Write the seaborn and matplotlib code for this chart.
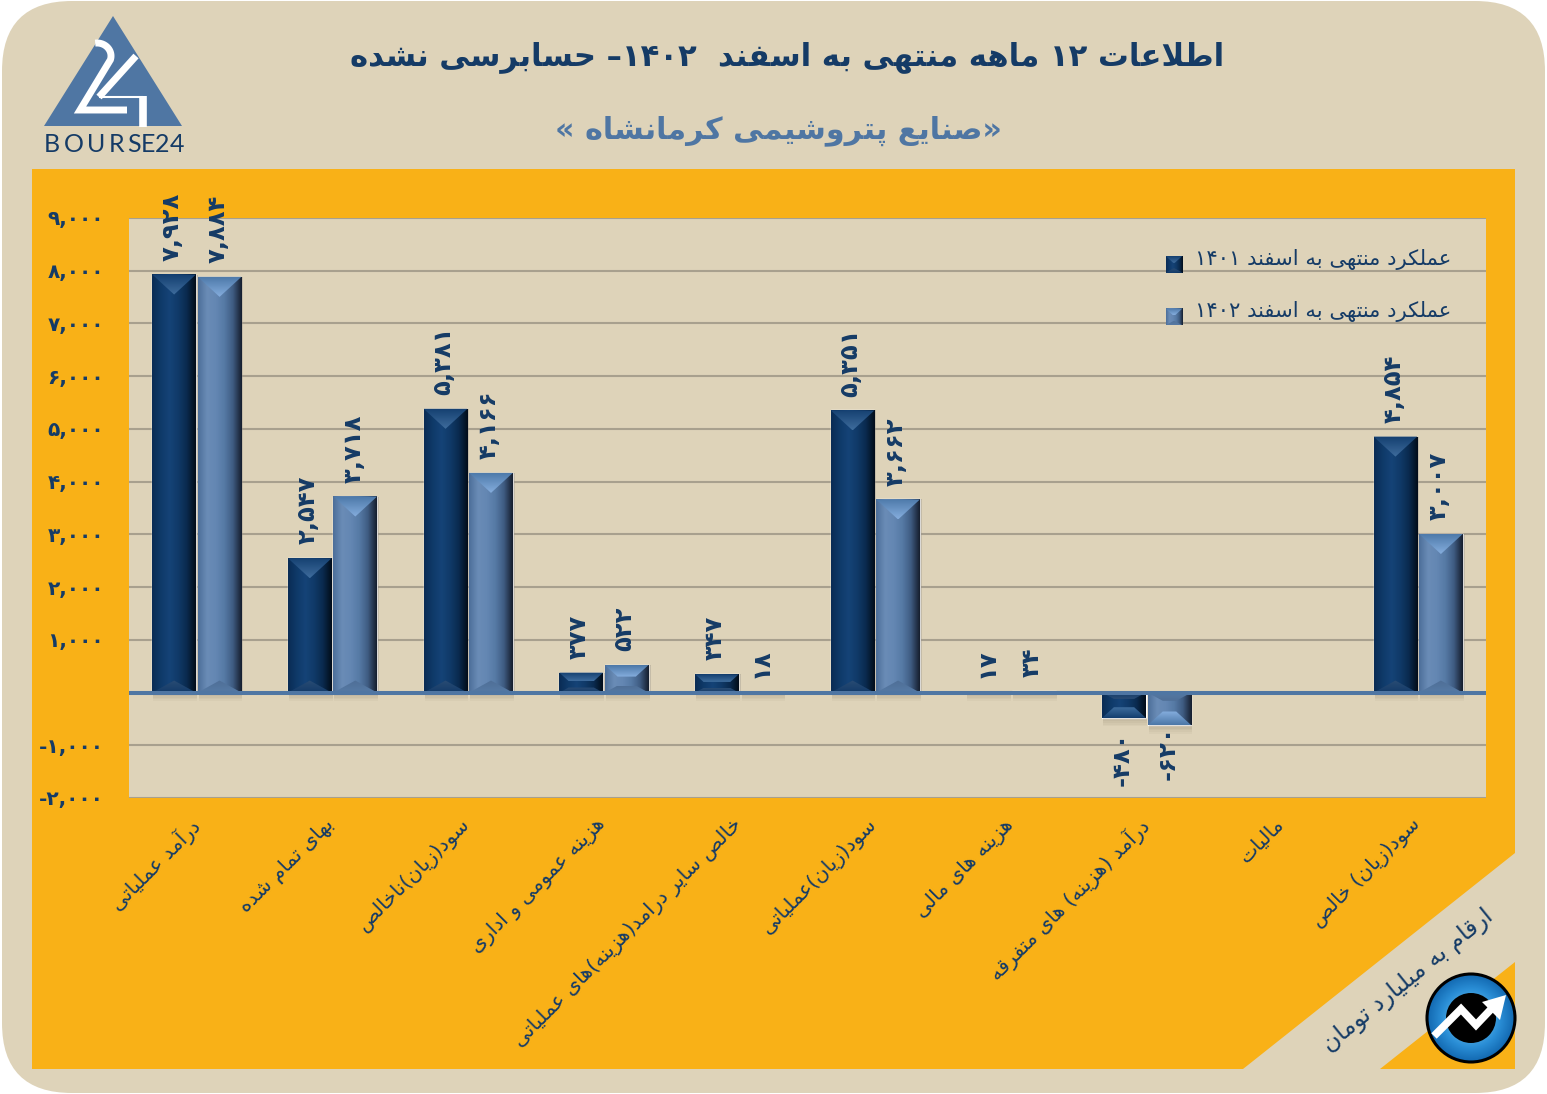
import re
import numpy as np
import pandas as pd
import matplotlib
matplotlib.use('Agg')
import matplotlib.pyplot as plt
import seaborn as sns
from matplotlib.colors import LinearSegmentedColormap
from matplotlib.patches import Circle, FancyBboxPatch, Polygon, Rectangle
from matplotlib.transforms import ScaledTranslation

items = ['درآمد عملیاتی', 'بهای تمام شده', 'سود(زیان)ناخالص', 'هزینه عمومی و اداری',
         'خالص سایر درامد(هزینه)های عملیاتی', 'سود(زیان)عملیاتی', 'هزینه های مالی',
         'درآمد (هزینه) های متفرقه', 'مالیات', 'سود(زیان) خالص']
values_1401 = [7928, 2547, 5381, 377, 347, 5351, 17, -480, np.nan, 4854]
values_1402 = [7884, 3718, 4166, 522, 18, 3662, 34, -620, np.nan, 3007]
period_1401 = 'عملکرد منتهی به اسفند ۱۴۰۱'
period_1402 = 'عملکرد منتهی به اسفند ۱۴۰۲'
y_ticks = [-2000, -1000, 0, 1000, 2000, 3000, 4000, 5000, 6000, 7000, 8000, 9000]
title_text = 'اطلاعات ۱۲ ماهه منتهی به اسفند  ۱۴۰۲– حسابرسی نشده'
subtitle_text = '«صنایع پتروشیمی کرمانشاه »'
unit_text = 'ارقام به میلیارد تومان'

W, H = 1547, 1094
CREAM = '#DED3B9'
ORANGE = '#F9B117'
NAVY = '#153B66'
STEEL = '#4F76A3'
GRID = '#A8A08E'

# matplotlib has no arabic shaping, so pick presentation forms by hand
FORMS = {}
for ch, start in zip('بتثجحخسشصضطظعغفقلمن',
                     [0xFE8F, 0xFE95, 0xFE99, 0xFE9D, 0xFEA1, 0xFEA5, 0xFEB1, 0xFEB5, 0xFEB9, 0xFEBD,
                      0xFEC1, 0xFEC5, 0xFEC9, 0xFECD, 0xFED1, 0xFED5, 0xFEDD, 0xFEE1, 0xFEE5]):
    FORMS[ch] = [chr(start + i) for i in range(4)]
for ch, start in zip('هکگیپچ', [0xFEE9, 0xFB8E, 0xFB92, 0xFBFC, 0xFB56, 0xFB7A]):
    FORMS[ch] = [chr(start + i) for i in range(4)]
for ch, start in zip('اآدذرزوژ', [0xFE8D, 0xFE81, 0xFEA9, 0xFEAB, 0xFEAD, 0xFEAF, 0xFEED, 0xFB8A]):
    FORMS[ch] = [chr(start), chr(start + 1)]


def shape(text):
    text = text.replace('لا', '\uFEFB')
    out = []
    for i, ch in enumerate(text):
        prev = text[i - 1] if i > 0 else ''
        nxt = text[i + 1] if i + 1 < len(text) else ''
        if ch == '\uFEFB':
            out.append('\uFEFC' if prev in FORMS and len(FORMS[prev]) == 4 else ch)
            continue
        if ch not in FORMS:
            out.append(ch)
            continue
        joins_prev = prev in FORMS and len(FORMS[prev]) == 4
        joins_next = (nxt in FORMS or nxt == '\uFEFB') and len(FORMS[ch]) == 4
        if joins_prev and joins_next:
            out.append(FORMS[ch][3])
        elif joins_prev:
            out.append(FORMS[ch][1])
        elif joins_next:
            out.append(FORMS[ch][2])
        else:
            out.append(FORMS[ch][0])
    visual = ''.join(out)[::-1]
    visual = re.sub('[۰-۹,]+', lambda m: m.group(0)[::-1], visual)
    return visual.translate(str.maketrans('()«»', ')(»«'))


def fa_number(v):
    s = f'{int(v):,}'
    return s.translate(str.maketrans('0123456789', '۰۱۲۳۴۵۶۷۸۹'))


sns.set_theme(style='white')
plt.rcParams['font.family'] = ['DejaVu Sans']

fig = plt.figure(figsize=(W / 100, H / 100), dpi=100, facecolor='white')

# background, in pixel coordinates
bg = fig.add_axes([0, 0, 1, 1], zorder=0)
bg.set_xlim(0, W)
bg.set_ylim(H, 0)
bg.axis('off')
bg.add_patch(FancyBboxPatch((64, 63), W - 128, H - 126, boxstyle='round,pad=62,rounding_size=70', fc=CREAM, ec='none'))
bg.add_patch(Polygon([(32, 169), (1515, 169), (1515, 853), (1243, 1069), (32, 1069)], fc=ORANGE, ec='none'))
bg.add_patch(Polygon([(1515, 962), (1515, 1069), (1380, 1069)], fc=ORANGE, ec='none'))

bg.text(787, 57, shape(title_text), fontsize=22.1, fontweight='bold', color=NAVY, ha='center', va='center')
bg.text(778, 131, shape(subtitle_text), fontsize=21.7, fontweight='bold', color=STEEL, ha='center', va='center')
bg.text(1408, 981, shape(unit_text), fontsize=17, color=NAVY, ha='center', va='center', rotation=39,
        rotation_mode='anchor')

# bourse24 logo
bg.add_patch(Polygon([(113, 16), (44, 126), (182, 126)], fc=STEEL, ec='none'))
t = np.linspace(-1.7, 0.3, 30)
two_x = list(97 + 14 * np.cos(t)) + [80, 127]
two_y = list(56 + 13 * np.sin(t)) + [110, 110]
bg.plot(two_x, two_y, color='white', lw=5, solid_joinstyle='miter', solid_capstyle='butt')
bg.plot([136, 99], [56, 97], color='white', lw=5, solid_capstyle='butt')
bg.plot([99, 143], [97, 97], color='white', lw=1.5, solid_capstyle='butt')
bg.plot([143, 143], [96, 127], color='white', lw=5.5, solid_capstyle='butt')
for ch, x in zip('BOURSE24', [52, 74, 96, 117, 134, 148, 162, 177]):
    bg.text(x, 144, ch, fontsize=18, color=NAVY, family='Lato', ha='center', va='center')

# round logo bottom right
yy, xx = np.mgrid[-1:1:120j, -1:1:120j]
rr = np.sqrt(xx ** 2 + yy ** 2)
blue_map = LinearSegmentedColormap.from_list('b', ['#9fd3f2', '#5db4e6', '#2a8ed6', '#1268b0'])
im = bg.imshow(rr, extent=(1427, 1515, 1062, 974), cmap=blue_map, vmin=0, vmax=1, aspect='auto', zorder=2)
clip = Circle((1471, 1018), 44, transform=bg.transData)
im.set_clip_path(clip)
bg.add_patch(Circle((1471, 1018), 44, fc='none', ec='black', lw=2.2, zorder=3))
bg.add_patch(Circle((1471, 1018), 25, fc='black', ec='none', zorder=3))
bg.plot([1434, 1461, 1476, 1495], [1036, 1009, 1025, 1005], color='white', lw=5.5, zorder=4,
        solid_joinstyle='miter', solid_capstyle='butt')
bg.add_patch(Polygon([(1506, 995), (1500, 1020), (1482, 1002)], fc='white', ec='none', zorder=4))
bg.set_xlim(0, W)
bg.set_ylim(H, 0)

df = pd.DataFrame({
    'item': [shape(s) for s in items] * 2,
    'value': values_1401 + values_1402,
    'period': [shape(period_1401)] * len(items) + [shape(period_1402)] * len(items),
})

ax = fig.add_axes([129 / W, (H - 798) / H, (1486 - 129) / W, (798 - 218) / H], zorder=1)
ax.set_facecolor(CREAM)
sns.barplot(data=df, x='item', y='value', hue='period', palette=['#0f3865', '#5a7ea9'], width=0.67, gap=0.04,
            saturation=1, ax=ax, errorbar=None)
ax.set_xlim(-0.5, len(items) - 0.5)
ax.set_ylim(-2000, 9000)
ax.set_xlabel('')
ax.set_ylabel('')
for s in ax.spines.values():
    s.set_visible(False)
ax.set_yticks(y_ticks)
ax.set_yticklabels(['' if v == 0 else fa_number(v) for v in y_ticks], fontsize=14.5, fontweight='bold', color=NAVY)
ax.tick_params(axis='y', length=0, pad=18)
ax.tick_params(axis='x', length=0, pad=12)
ax.set_xticks(range(len(items)))
ax.set_xticklabels([shape(s) for s in items], rotation=45, ha='right', rotation_mode='anchor',
                   fontsize=14.6, color=NAVY)
shift = ScaledTranslation(-8 / 100, 0, fig.dpi_scale_trans)
for lab in ax.get_xticklabels():
    lab.set_transform(lab.get_transform() + shift)
ax.set_axisbelow(True)
ax.yaxis.grid(True, color=GRID, lw=1.5)
ax.xaxis.grid(False)
ax.axhline(0, color=STEEL, lw=2.9, zorder=6)

PXX = 1 / 135.7
PXY = 1000 / 52.66
shaft_maps = [
    LinearSegmentedColormap.from_list('s0', ['#0a2c55', '#0f3a69', '#154377', '#103a68', '#0a2a4e', '#020d1a']),
    LinearSegmentedColormap.from_list('s1', ['#4d6f9a', '#6a8cb6', '#6487b3', '#567aa5', '#3f5c82', '#161f2f']),
]
top_maps = [
    LinearSegmentedColormap.from_list('t0', ['#143f70', '#3e6c9c']),
    LinearSegmentedColormap.from_list('t1', ['#4c78a8', '#85addd']),
]
bottom_maps = [
    LinearSegmentedColormap.from_list('b0', ['#123a68', '#2a4c74']),
    LinearSegmentedColormap.from_list('b1', ['#567aa5', '#4f6f97']),
]


def bevel(target, x0, w_data, y_top, y_bot, kind, px_x, px_y, depth_px=20, z=3):
    # gradient body plus the two chevrons; y_top is the end away from the baseline
    h_px = abs(y_top - y_bot) / px_y
    if h_px < 3:
        return
    d = min(depth_px, h_px * 0.42)
    w_px = w_data / px_x
    inset = min(d * 1.1, w_px / 2) * px_x
    lo, hi = min(y_top, y_bot), max(y_top, y_bot)
    target.imshow(np.linspace(0, 1, 64).reshape(1, -1), extent=(x0, x0 + w_data, lo, hi), cmap=shaft_maps[kind],
                  aspect='auto', zorder=z, interpolation='bilinear')
    sign = 1 if y_top > y_bot else -1
    for end, cmap in ((y_top, top_maps[kind]), (y_bot, bottom_maps[kind])):
        inner = end - sign * d * px_y if end == y_top else end + sign * d * px_y * 0.6
        poly = Polygon([(x0, end), (x0 + w_data, end), (x0 + w_data - inset, inner), (x0 + inset, inner)],
                       transform=target.transData, fc='none', ec='none')
        target.add_patch(poly)
        im = target.imshow(np.linspace(0, 1, 32).reshape(-1, 1), extent=(x0, x0 + w_data, end, inner), origin='lower',
                           cmap=cmap, aspect='auto', zorder=z + 0.1, interpolation='bilinear')
        im.set_clip_path(poly)


for kind, container in enumerate(ax.containers):
    for bar in container:
        v = bar.get_height()
        if np.isnan(v):
            continue
        x0, w = bar.get_x(), bar.get_width()
        # soft shadow below and to the right of the bar
        for k in range(1, 5):
            ax.add_patch(Rectangle((x0 + 1 * PXX, -(2 + k * 1.6) * PXY + min(v, 0)), w, (2 + k * 1.6) * PXY,
                                   fc='#4a3a2a', ec='none', alpha=0.04, zorder=2))
        if v > 0:
            ax.add_patch(Rectangle((x0 + w, 0), 2 * PXX, v, fc='#3a3020', ec='none', alpha=0.18, zorder=2))
        bevel(ax, x0, w, v, 0, kind, PXX, PXY)
        pad = 10
        if v == -620:
            pad = 0
        ax.annotate(fa_number(v), (x0 + w / 2 - 2 * PXX, v), xytext=(0, pad if v >= 0 else -pad),
                    textcoords='offset points', rotation=90, ha='center', va='bottom' if v >= 0 else 'top',
                    fontsize=17.5, fontweight='bold', color=NAVY, zorder=7)
ax.set_xlim(-0.5, len(items) - 0.5)
ax.set_ylim(-2000, 9000)

handles, labels = ax.get_legend_handles_labels()
leg = ax.legend(handles, labels, loc='upper left', bbox_to_anchor=((1155 - 129) / (1486 - 129), 1 - (238 - 218) / 580),
                frameon=False, fontsize=15.2, labelspacing=1.5, handlelength=0.8, handleheight=0.85,
                handletextpad=0.6, borderpad=0, labelcolor=NAVY)

# bevel the legend keys too, on a top layer
fig.canvas.draw()
top = fig.add_axes([0, 0, 1, 1], zorder=5)
top.set_xlim(0, W)
top.set_ylim(0, H)
top.axis('off')
for kind, patch in enumerate(leg.get_patches()):
    e = patch.get_window_extent()
    patch.set_visible(False)
    bevel(top, e.x0, e.width, e.y1 - 7, e.y0 - 7, kind, 1, 1, depth_px=7, z=3)
top.set_xlim(0, W)
top.set_ylim(0, H)

fig.savefig('out.png', dpi=100, facecolor='white')
